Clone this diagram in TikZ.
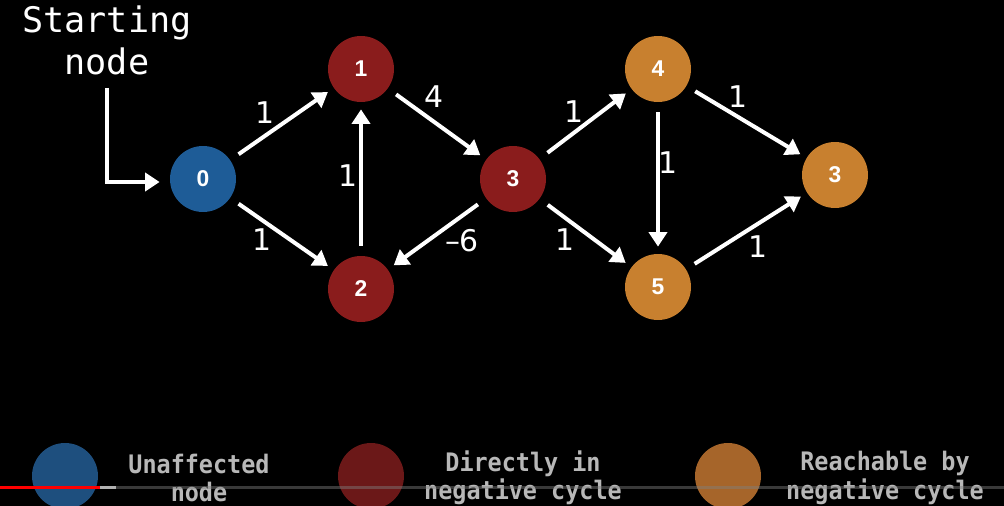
\documentclass[tikz,border=0pt]{standalone}
\usepackage{fontspec}
\setmainfont{DejaVu Sans}
\newfontfamily\monofont{DejaVu Sans Mono}
\newfontfamily\legfont[FakeStretch=0.92]{DejaVu Sans Mono}
\newfontfamily\numfont{Liberation Sans}
\usetikzlibrary{arrows.meta}
\definecolor{nblue}{HTML}{1E5C97}
\definecolor{nred}{HTML}{8A1C1C}
\definecolor{norange}{HTML}{C8802F}
\definecolor{lblue}{HTML}{1E4F7E}
\definecolor{lred}{HTML}{6B1818}
\definecolor{lorange}{HTML}{A6652A}
\definecolor{legtext}{HTML}{B8B8B8}
\begin{document}
\begin{tikzpicture}[x=0.02cm,y=-0.02cm,
  vtx/.style={circle, minimum size=1.32cm, inner sep=0pt, text=white, font=\numfont\bfseries\fontsize{13}{13}\selectfont},
  bluev/.style={vtx, fill=nblue},
  redv/.style={vtx, fill=nred},
  orangev/.style={vtx, fill=norange},
  edge/.style={draw=white, line width=0.08cm, -{Triangle[length=0.29cm,width=0.36cm]}, shorten <=0.2cm, shorten >=0.14cm},
  lbl/.style={text=white, font=\fontsize{17}{17}\selectfont, inner sep=0pt},
  legdot/.style={circle, minimum size=1.32cm, inner sep=0pt},
  legtxt/.style={text=legtext, align=center, font=\legfont\bfseries\fontsize{14.5}{16}\selectfont, inner sep=0pt},
  starttxt/.style={text=white, align=center, font=\monofont\fontsize{20}{24}\selectfont, inner sep=0pt}
]
\fill[black] (0,0) rectangle (1004,506);
\useasboundingbox (0,0) rectangle (1004,506);

% vertices
\node[bluev]   (n0)  at (203,179) {0};
\node[redv]    (n1)  at (361,69)  {1};
\node[redv]    (n2)  at (361,289) {2};
\node[redv]    (n3)  at (513,179) {3};
\node[orangev] (n4)  at (658,69)  {4};
\node[orangev] (n5)  at (658,287) {5};
\node[orangev] (n6)  at (835,175) {3};

% starting node label and arrow
\node[starttxt] (start) at (107,40) {Starting\\node};
\coordinate (sTop) at (107,88);
\coordinate (sCorner) at (107,182);
\draw[draw=white, line width=0.08cm, -{Triangle[length=0.29cm,width=0.36cm]}, shorten >=0.2cm] (sTop) -- (sCorner) -- (sCorner -| n0.west);

% edges
\draw[edge] (n0) -- (n1) node[lbl] at (265,113) {1};
\draw[edge] (n0) -- (n2) node[lbl] at (262,240) {1};
\draw[edge] (n2) -- (n1) node[lbl] at (348,176) {1};
\draw[edge] (n1) -- (n3) node[lbl] at (434,97) {4};
\draw[edge] (n3) -- (n2) node[lbl] at (462,241) {\textendash\kern-0.05em 6};
\draw[edge] (n3) -- (n4) node[lbl] at (574,112) {1};
\draw[edge] (n3) -- (n5) node[lbl] at (565,240) {1};
\draw[edge] (n4) -- (n5) node[lbl] at (668,163) {1};
\draw[edge] (n4) -- (n6) node[lbl] at (738,97) {1};
\draw[edge] (n5) -- (n6) node[lbl] at (758,247) {1};

% legend
\begin{scope}
\clip (0,0) rectangle (1004,506);
\node[legdot, fill=lblue]   (lg1) at (65,476) {};
\node[legdot, fill=lred]    (lg2) at (371,476) {};
\node[legdot, fill=lorange] (lg3) at (728,476) {};
\end{scope}
\node[legtxt] (lt1) at (199,478) {Unaffected\\node};
\node[legtxt] (lt2) at (523,478) {Directly in\\negative cycle};
\node[legtxt] (lt3) at (885,478) {Reachable by\\negative cycle};

% video progress bar
\draw[line width=0.06cm, gray, opacity=0.45] (0,487) -- (1004,487);
\draw[line width=0.06cm, gray!60!white] (100,487) -- (116,487);
\draw[line width=0.06cm, red] (0,487) -- (100,487);
\end{tikzpicture}
\end{document}
